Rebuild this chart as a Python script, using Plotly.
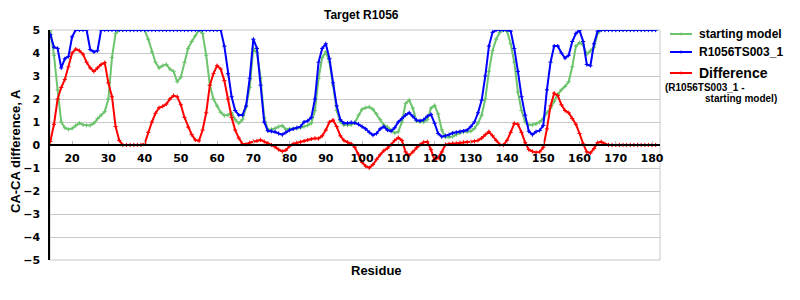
import plotly.graph_objects as go

residues = list(range(14, 182))

starting_model = [
    5, 3.9, 2.4, 1.0, 0.75, 0.68, 0.72, 0.85, 0.95, 0.88,          # 14-23
    0.85, 0.85, 0.95, 1.15, 1.3, 1.45, 2.0, 3.8, 4.85, 5,           # 24-33
    5, 5, 5, 5, 5, 5, 5, 4.6, 4.05, 3.6,                            # 34-43
    3.35, 3.45, 3.5, 3.3, 3.2, 2.75, 2.95, 3.6, 4.2, 4.5,           # 44-53
    4.75, 5, 4.85, 3.9, 2.6, 2.0, 1.7, 1.42, 1.28, 1.3,             # 54-63
    1.4, 1.1, 0.95, 1.1, 1.65, 2.5, 4.2, 4.0, 2.9, 1.2,             # 64-73
    0.65, 0.68, 0.72, 0.8, 0.84, 0.68, 0.7, 0.7, 0.72, 0.75,        # 74-83
    0.8, 0.85, 0.95, 1.5, 2.9, 3.8, 4.05, 3.6, 2.6, 1.5,            # 84-93
    1.0, 0.87, 0.87, 0.88, 0.98, 1.3, 1.55, 1.62, 1.65, 1.55,       # 94-103
    1.35, 1.1, 0.87, 0.78, 0.65, 0.52, 0.58, 1.0, 1.8, 1.95,        # 104-113
    1.6, 1.05, 1.0, 1.0, 1.1, 1.6, 1.72, 1.35, 0.65, 0.34,          # 114-123
    0.34, 0.37, 0.45, 0.53, 0.58, 0.58, 0.6, 0.72, 0.95, 1.3,       # 124-133
    2.0, 3.2, 4.1, 4.6, 4.9, 5, 4.95, 4.4, 3.6, 2.3,                # 134-143
    1.5, 1.0, 0.88, 0.88, 0.92, 1.0, 1.15, 1.4, 1.6, 1.9,           # 144-153
    2.2, 2.4, 2.55, 2.75, 3.4, 4.3, 4.45, 4.35, 3.95, 4.1,          # 154-163
    4.25, 4.85, 5, 5, 5, 5, 5, 5, 5, 5,                             # 164-173
    5, 5, 5, 5, 5, 5, 5, 5,                                         # 174-181
]

r1056ts003_1 = [
    4.8, 4.25, 4.2, 3.35, 3.75, 3.85, 4.7, 5, 5, 5,                 # 14-23
    5, 4.15, 4.05, 4.1, 5, 5, 5, 5, 5, 5,                           # 24-33
    5, 5, 5, 5, 5, 5, 5, 5, 5, 5,                                   # 34-43
    5, 5, 5, 5, 5, 5, 5, 5, 5, 5,                                   # 44-53
    5, 5, 5, 5, 5, 5, 5, 5, 4.3, 3.1,                               # 54-63
    2.1, 1.5, 1.3, 1.3, 1.7, 2.9, 4.6, 4.2, 2.6, 1.0,               # 64-73
    0.62, 0.6, 0.57, 0.5, 0.45, 0.55, 0.65, 0.7, 0.75, 0.8,         # 74-83
    1.0, 1.05, 1.2, 2.0, 3.6, 4.2, 4.4, 3.75, 2.7, 1.7,             # 84-93
    1.1, 0.95, 0.95, 0.98, 0.96, 0.9, 0.8, 0.7, 0.55, 0.43,         # 94-103
    0.5, 0.7, 0.8, 0.65, 0.6, 0.75, 1.0, 1.15, 1.3, 1.4,            # 104-113
    1.25, 1.08, 1.05, 1.1, 1.25, 1.33, 0.95, 0.5, 0.36, 0.4,        # 114-123
    0.45, 0.52, 0.55, 0.58, 0.6, 0.65, 0.8, 1.0, 1.4, 1.95,         # 124-133
    3.0, 4.3, 4.9, 5, 5, 5, 5, 4.95, 4.2, 3.2,                      # 134-143
    2.1, 1.3, 0.6, 0.45, 0.58, 0.63, 0.85, 2.4, 3.6, 4.3,           # 144-153
    4.3, 4.0, 3.78, 3.9, 4.5, 4.85, 4.98, 4.5, 3.5, 3.45,           # 154-163
    4.4, 4.95, 5, 5, 5, 5, 5, 5, 5, 5,                              # 164-173
    5, 5, 5, 5, 5, 5, 5, 5,                                         # 174-181
]

difference = [
    0.15, 0.9, 2.0, 2.5, 2.85, 3.4, 4.0, 4.17, 4.1, 3.95,           # 14-23
    3.6, 3.35, 3.2, 3.35, 3.5, 3.58, 2.7, 2.1, 0.8, 0.2,            # 24-33
    0, 0, 0, 0, 0, 0, 0.05, 0.55, 1.0, 1.38,                        # 34-43
    1.62, 1.68, 1.78, 2.0, 2.15, 2.1, 1.75, 1.2, 0.78, 0.45,        # 44-53
    0.22, 0.18, 0.65, 1.4, 2.6, 3.1, 3.45, 3.3, 2.8, 2.0,           # 54-63
    1.2, 0.65, 0.3, 0.05, 0.03, 0.1, 0.15, 0.18, 0.22, 0.15,        # 64-73
    0.08, 0.0, -0.08, -0.2, -0.28, -0.22, -0.05, 0.05, 0.1, 0.13,   # 74-83
    0.17, 0.22, 0.26, 0.29, 0.28, 0.4, 0.65, 1.0, 1.08, 0.8,        # 84-93
    0.4, 0.2, 0.12, 0.05, -0.1, -0.4, -0.75, -0.92, -0.99, -0.85,   # 94-103
    -0.62, -0.42, -0.25, -0.14, 0.02, 0.2, 0.32, 0.2, -0.3, -0.45,  # 104-113
    -0.3, -0.12, 0.02, 0.12, 0.14, -0.2, -0.65, -0.55, -0.3, 0.02,  # 114-123
    0.05, 0.07, 0.07, 0.1, 0.12, 0.13, 0.14, 0.16, 0.2, 0.3,        # 124-133
    0.45, 0.58, 0.4, 0.2, 0.02, 0.0, 0.2, 0.55, 0.94, 0.9,          # 134-143
    0.55, 0.1, -0.2, -0.28, -0.32, -0.3, -0.1, 0.7, 1.7, 2.25,      # 144-153
    2.15, 1.75, 1.5, 1.4, 1.15, 0.9, 0.5, 0.05, -0.3, -0.35,        # 154-163
    -0.15, 0.1, 0.14, 0.05, 0, 0, 0, 0, 0, 0,                       # 164-173
    0, 0, 0, 0, 0, 0, 0, 0,                                         # 174-181
]

x_ticks = list(range(20, 181, 10))
y_ticks = list(range(-5, 6))

GREEN = "#6CC46C"
BLUE = "#0000FF"
RED = "#FF0000"

series = [
    ("starting model", starting_model, GREEN),
    ("R1056TS003_1", r1056ts003_1, BLUE),
    ("Difference", difference, RED),
]

fig = go.Figure()
for name, vals, col in series:
    fig.add_trace(go.Scatter(
        x=residues, y=vals, name=name, mode="lines+markers",
        line=dict(color=col, width=2),
        marker=dict(symbol="cross-thin", size=3, color=col,
                    line=dict(color=col, width=1)),
        showlegend=False,
    ))

W, H = 800, 300
L, R, T, B = 50, 140, 30, 40
pw, ph = W - L - R, H - T - B

def px(x):
    return (x - L) / pw

def py(y):
    return (H - B - y) / ph

bold = dict(family="DejaVu Sans", size=11, color="black", weight="bold")
arialb = "Liberation Sans"

fig.update_layout(
    width=W, height=H,
    margin=dict(l=L, r=R, t=T, b=B, pad=0),
    paper_bgcolor="white", plot_bgcolor="white",
    xaxis=dict(
        range=[13.9, 182.2], tickvals=x_ticks, showgrid=False,
        anchor="free", position=0.5, showline=True, linecolor="black",
        linewidth=1.5, zeroline=False, ticks="inside", ticklen=3,
        tickcolor="#BBBBBB", tickfont=bold, ticklabelstandoff=3,
    ),
    yaxis=dict(
        range=[-5, 5], tickvals=y_ticks, showgrid=True, gridcolor="#C8C8C8",
        gridwidth=1, zeroline=False, showline=True, linecolor="black",
        linewidth=1.5, ticks="", tickfont=bold, ticklabelstandoff=6,
    ),
    shapes=[
        dict(type="rect", xref="paper", yref="paper", x0=0, x1=1, y0=0, y1=1,
             line=dict(color="#C8C8C8", width=1), layer="below"),
    ],
)

ann = []
ann.append(dict(text="<b>Target R1056</b>", x=px(361), y=py(15), xref="paper", yref="paper",
                showarrow=False, xanchor="center", yanchor="middle",
                font=dict(family=arialb, size=12, color="black")))
ann.append(dict(text="<b>Residue</b>", x=px(376), y=py(270), xref="paper", yref="paper",
                showarrow=False, xanchor="center", yanchor="middle",
                font=dict(family=arialb, size=13, color="black")))
ann.append(dict(text="<b>CA-CA difference, A</b>", x=px(15), y=py(151), xref="paper", yref="paper",
                showarrow=False, xanchor="center", yanchor="middle", textangle=-90,
                font=dict(family=arialb, size=13, color="black")))

legend_rows = [(34, "starting model", GREEN, 12), (52, "R1056TS003_1", BLUE, 12),
               (73, "Difference", RED, 14)]
shapes = list(fig.layout.shapes)
for yy, txt, col, fs in legend_rows:
    shapes.append(dict(type="line", xref="paper", yref="paper", x0=px(670), x1=px(692),
                       y0=py(yy), y1=py(yy), line=dict(color=col, width=2)))
    shapes.append(dict(type="line", xref="paper", yref="paper", x0=px(681), x1=px(681),
                       y0=py(yy - 1.5), y1=py(yy + 1.5), line=dict(color=col, width=1)))
    ann.append(dict(text=f"<b>{txt}</b>", x=px(697), y=py(yy), xref="paper", yref="paper",
                    showarrow=False, xanchor="left", yanchor="middle",
                    font=dict(family=arialb, size=fs, color="black")))
ann.append(dict(text="<b>(R1056TS003_1 -</b>", x=px(663), y=py(87.5), xref="paper", yref="paper",
                showarrow=False, xanchor="left", yanchor="middle",
                font=dict(family=arialb, size=10, color="black")))
ann.append(dict(text="<b>starting model)</b>", x=px(703), y=py(98.5), xref="paper", yref="paper",
                showarrow=False, xanchor="left", yanchor="middle",
                font=dict(family=arialb, size=10, color="black")))

fig.update_layout(annotations=ann, shapes=shapes)
fig.write_html("out.html")
